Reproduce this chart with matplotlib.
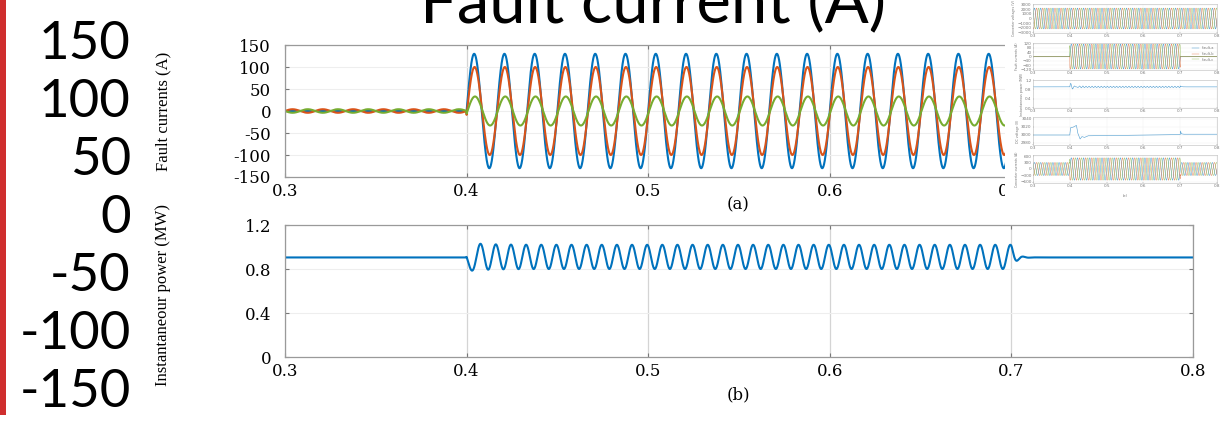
import numpy as np
import matplotlib.pyplot as plt
from matplotlib.patches import Rectangle

# ---- values ----
t_start, t_end = 0.3, 0.8
fault_on, fault_off = 0.4, 0.7
freq = 60                                   # Hz, ~30 px per cycle

phase_names = ['Ifault,a', 'Ifault,b', 'Ifault,c']
phase_colors = ['#0072BD', '#D95319', '#77AC30']
fault_amp = [130, 100, 33]                  # A, peaks during the fault
prefault_amp = [0, 4, 4]                    # A, small ripple before / after
phase_lag_deg = [0, 5, 10]
prefault_shift_deg = [0, 0, 180]

power_base = 0.905                          # MW before / after
power_mid = 0.91                            # MW centre during fault
power_swing = 0.11                          # MW half swing (0.80 .. 1.02)
power_first_extra = 0.02                    # first swing 0.78 .. 1.04
power_lag_deg = -65.5

big_ticks = [150, 100, 50, 0, -50, -100, -150]
cur_ticks = [-150, -100, -50, 0, 50, 100, 150]
pow_ticks = [0, 0.4, 0.8, 1.2]
time_ticks = [0.3, 0.4, 0.5, 0.6, 0.7, 0.8]

# thumbnail (top right) values
thumb_v_amp = [2300, 2300, 2300]
thumb_if_amp = [115, 115, 115]
thumb_ic_amp_normal = 300
thumb_ic_amp_fault = 520
thumb_dc_t = [0.3, 0.4, 0.402, 0.41, 0.418, 0.422, 0.428, 0.433, 0.44, 0.45, 0.7, 0.701, 0.703, 0.71, 0.8]
thumb_dc_v = [3000, 3000, 3018, 3020, 3024, 3004, 2990, 2996, 2994, 2998, 3001, 3010, 3003, 3002, 3002]
thumb_labels = ['Converter voltages (V)', 'Fault currents (A)', 'Instantaneous power (MW)',
                'DC voltage (V)', 'Converter currents (A)']
thumb_tags = ['(a)', '(b)', '(c)', '(d)', '(e)']

W, H = 1222, 425
fig = plt.figure(figsize=(W / 100, H / 100), dpi=100)
fig.patch.set_facecolor('white')


def px_axes(x0, y0, x1, y1):
    return fig.add_axes([x0 / W, 1 - y1 / H, (x1 - x0) / W, (y1 - y0) / H])


t = np.linspace(t_start, t_end, 20001)
w = 2 * np.pi * freq
in_fault = (t >= fault_on) & (t < fault_off)

# ---- slide decoration: red bar, big title, big tick numbers ----
fig.add_artist(Rectangle((0, 10 / H), 6 / W, 1 - 10 / H, transform=fig.transFigure,
                         facecolor='#cf2e2e', edgecolor='none'))
fig.text(653 / W, 1 - 22 / H, 'Fault current (A)', ha='center', va='baseline',
         fontsize=47, family='Lato', color='black')

ax_big = px_axes(135, 40, 136, 388)
ax_big.set_ylim(-150, 150)
ax_big.set_yticks(big_ticks)
ax_big.set_yticklabels([str(v) for v in big_ticks], family='Lato', fontsize=38)
ax_big.tick_params(axis='y', length=0, pad=3)
ax_big.set_xticks([])
for s in ax_big.spines.values():
    s.set_visible(False)
ax_big.patch.set_alpha(0)


def style_main(ax, yticks, ylim):
    ax.set_xlim(t_start, t_end)
    ax.set_ylim(*ylim)
    ax.set_xticks(time_ticks)
    ax.set_xticklabels([f'{v:.1f}' for v in time_ticks])
    ax.set_yticks(yticks)
    ax.tick_params(direction='in', length=3, color='#777777', top=True, right=True,
                   labelsize=12)
    ax.tick_params(axis='x', pad=4)
    ax.tick_params(axis='y', pad=10)
    for lab in ax.get_xticklabels() + ax.get_yticklabels():
        lab.set_family('DejaVu Serif')
    for s in ax.spines.values():
        s.set_color('#9a9a9a')
        s.set_linewidth(0.9)
    ax.grid(True, axis='x', color='#d4d4d4', lw=0.9)
    ax.grid(True, axis='y', color='#eeeeee', lw=0.8)
    ax.set_axisbelow(True)


# ---- (a) fault currents ----
ax1 = px_axes(285, 45, 1193, 177)
for amp_f, amp_p, lag, shift, col in zip(fault_amp, prefault_amp, phase_lag_deg,
                                          prefault_shift_deg, phase_colors):
    normal = amp_p * np.sin(w * (t - t_start) + np.deg2rad(shift))
    fault = amp_f * np.sin(w * (t - fault_on) - np.deg2rad(lag))
    ax1.plot(t, np.where(in_fault, fault, normal), color=col, lw=1.5)
style_main(ax1, cur_ticks, (-150, 150))
ax1.set_yticklabels([str(v) for v in cur_ticks])
fig.text(163 / W, 1 - 111 / H, 'Fault currents (A)', rotation=90, ha='center', va='center',
         fontsize=12, family='Liberation Serif')
fig.text(738 / W, 1 - 205 / H, '(a)', ha='center', va='center', fontsize=12, family='DejaVu Serif')

# ---- (b) instantaneous power ----
ax2 = px_axes(285, 225, 1193, 357)
dt_on = np.clip(t - fault_on, 0, None)
theta = 2 * w * dt_on + np.deg2rad(power_lag_deg) * (1 - np.exp(-dt_on / 0.003))
swing = power_swing + power_first_extra * np.exp(-dt_on / 0.01)
p_fault = power_mid - swing * np.sin(theta)
end_val = power_mid - power_swing * np.sin(2 * w * (fault_off - fault_on) + np.deg2rad(power_lag_deg))
dt_off = np.clip(t - fault_off, 0, None)
p_after = power_base + (end_val - power_base) * np.exp(-dt_off / 0.0025) * np.cos(2 * np.pi * 150 * dt_off)
power = np.where(t < fault_on, power_base, np.where(in_fault, p_fault, p_after))
ax2.plot(t, power, color=phase_colors[0], lw=1.5)
style_main(ax2, pow_ticks, (0, 1.2))
ax2.set_yticklabels(['0', '0.4', '0.8', '1.2'])
fig.text(163 / W, 1 - 295 / H, 'Instantaneour power (MW)', rotation=90, ha='center',
         va='center', fontsize=12, family='Liberation Serif')
fig.text(738 / W, 1 - 395 / H, '(b)', ha='center', va='center', fontsize=12, family='DejaVu Serif')

# ---- thumbnail of the full figure (top right) ----
fig.add_artist(Rectangle((1005 / W, 1 - 197 / H), 1 - 1005 / W, 197 / H,
                         transform=fig.transFigure, facecolor='white', edgecolor='none', zorder=5))
thumb_rows = [(4, 33), (43, 70), (80, 108), (117, 145), (155, 183)]
thumb_axes = []
for (y0, y1), lab, tag in zip(thumb_rows, thumb_labels, thumb_tags):
    ax = px_axes(1033, y0, 1217, y1)
    ax.set_zorder(6)
    ax.set_xlim(t_start, t_end)
    ax.set_xticks(time_ticks)
    ax.set_xticklabels([f'{v:.1f}' for v in time_ticks])
    ax.tick_params(direction='in', length=1, width=0.3, labelsize=3, pad=1, colors='#777777')
    for s in ax.spines.values():
        s.set_color('#bbbbbb')
        s.set_linewidth(0.4)
    ax.grid(True, color='#eeeeee', lw=0.3)
    ax.set_ylabel(lab, fontsize=2.3, color='#777777', labelpad=1)
    ax.text(0.5, -0.45, tag, transform=ax.transAxes, ha='center', va='center',
            fontsize=2.6, color='#777777')
    thumb_axes.append(ax)

tv, tf, tp, td, tc = thumb_axes
for k, (amp, col) in enumerate(zip(thumb_v_amp, phase_colors)):
    tv.plot(t, amp * np.sin(w * t - k * 2 * np.pi / 3), color=col, lw=0.35, alpha=0.7)
tv.set_ylim(-3200, 3200)
tv.set_yticks([-3000, -2000, -1000, 0, 1000, 2000, 3000])

for k, (amp, col, name) in enumerate(zip(thumb_if_amp, phase_colors, phase_names)):
    sig = amp * np.sin(w * (t - fault_on) - k * 2 * np.pi / 3)
    tf.plot(t, np.where(in_fault, sig, 0), color=col, lw=0.35, alpha=0.7, label=name)
tf.set_ylim(-125, 125)
tf.set_yticks([-120, -80, -40, 0, 40, 80, 120])
tf.legend(loc='upper right', fontsize=2.5, frameon=False, handlelength=2, labelcolor='#777777')

tp_sig = np.where(t < fault_on, power_base,
                  np.where(in_fault,
                           power_base + (0.15 * np.exp(-dt_on / 0.012) * np.sin(2 * np.pi * 90 * dt_on)
                                         + 0.03 * np.sin(2 * w * dt_on)),
                           power_base + 0.04 * np.exp(-dt_off / 0.003)))
tp.plot(t, tp_sig, color=phase_colors[0], lw=0.4, alpha=0.7)
tp.set_ylim(0, 1.2)
tp.set_yticks(pow_ticks)

td.plot(thumb_dc_t, thumb_dc_v, color=phase_colors[0], lw=0.4, alpha=0.7)
td.set_ylim(2975, 3045)
td.set_yticks([2980, 3000, 3020, 3040])

for k, col in enumerate(phase_colors):
    amp = np.where(in_fault, thumb_ic_amp_fault, thumb_ic_amp_normal)
    tc.plot(t, amp * np.sin(w * t - k * 2 * np.pi / 3), color=col, lw=0.35, alpha=0.7)
tc.set_ylim(-650, 650)
tc.set_yticks([-600, -300, 0, 300, 600])

fig.savefig('out.png', dpi=100, facecolor='white')
